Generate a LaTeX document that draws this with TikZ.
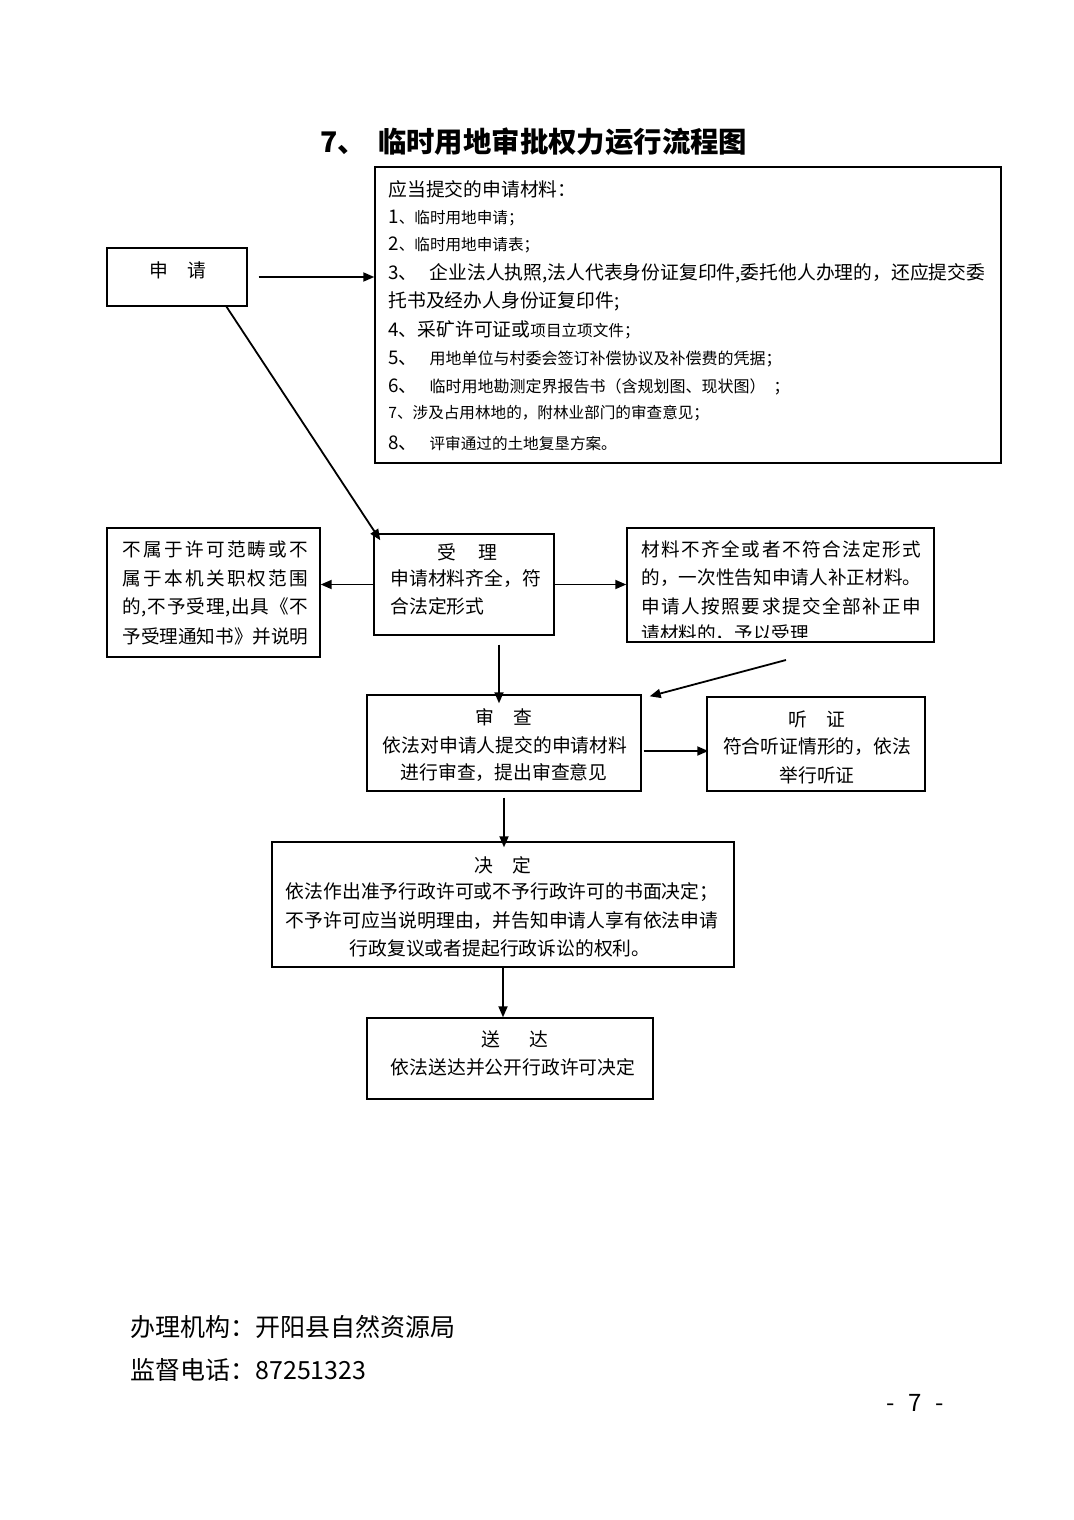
\documentclass[tikz,border=0pt]{standalone}
\usepackage{fontspec}
\setmainfont{Noto Sans CJK SC}
\usetikzlibrary{arrows.meta,fit,calc}
\def\spr#1{\sprfirst#1\relax}
\def\sprfirst#1{#1\sprrest}
\def\sprrest#1{\ifx#1\relax\else\hskip0pt plus1fil #1\expandafter\sprrest\fi}
\newcommand\fN{\fontsize{9.4pt}{11pt}\selectfont}
\newcommand\fS{\fontsize{7.8pt}{9pt}\selectfont}
\newcommand\fM{\fontsize{8pt}{9pt}\selectfont}
\newcommand\fB{\fontsize{9.3pt}{11pt}\selectfont}
\begin{document}
\begin{tikzpicture}[x=0.5pt,y=-0.5pt,
  box/.style={draw,line width=0.7pt,inner sep=0pt},
  tl/.style={inner sep=0pt,anchor=west,font=\fN},
  tc/.style={inner sep=0pt,anchor=center,font=\fN},
  arr/.style={-{Triangle[length=5.5pt,width=4.5pt]},line width=0.9pt}]
\fill[white] (0,0) rectangle (1074,1520);
\useasboundingbox (0,0) rectangle (1074,1520);

% title
\node[inner sep=0pt,anchor=west,font=\fontsize{14.2pt}{16pt}\selectfont\bfseries] (title) at (320,142) {7、\hspace{6pt}临时用地审批权力运行流程图};

% boxes
\node[box,fit={(107,248) (247,306)}] (sq) {};
\node[box,fit={(375,167) (1001,463)}] (mat) {};
\node[box,fit={(374,534) (554,635)}] (sl) {};
\node[box,fit={(107,528) (320,657)}] (lb) {};
\node[box,fit={(627,528) (934,642)}] (rb) {};
\node[box,fit={(367,695) (641,791)}] (sc) {};
\node[box,fit={(707,697) (925,791)}] (tz) {};
\node[box,fit={(272,842) (734,967)}] (jd) {};
\node[box,fit={(367,1018) (653,1099)}] (sd) {};

% 申请
\node[tc] (sqt) at (178,270) {申\hspace{10pt}请};

% materials
\node[tl] (m0) at (388,189) {应当提交的申请材料：};
\node[tl] (m1) at (388,218) {1\fS 、临时用地申请；};
\node[tl] (m2) at (388,245) {2\fS 、临时用地申请表；};
\node[tl] (m3) at (388,273) {3、\hspace{6pt}企业法人执照,法人代表身份证复印件,委托他人办理的，还应提交委};
\node[tl] (m4) at (388,301) {托书及经办人身份证复印件;};
\node[tl] (m5) at (388,330) {4、采矿许可证或{\fS 项目立项文件；}};
\node[tl] (m6) at (388,359) {5、\hspace{6pt}{\fM 用地单位与村委会签订补偿协议及补偿费的凭据；}};
\node[tl] (m7) at (388,387) {6、\hspace{6pt}{\fM 临时用地勘测定界报告书（含规划图、现状图）\hspace{4pt}；}};
\node[tl,font=\fS] (m8) at (388,413) {7、涉及占用林地的，附林业部门的审查意见；};
\node[tl] (m9) at (388,443) {8、\hspace{6pt}{\fS 评审通过的土地复垦方案。}};

% 受理
\node[tc] (slt) at (467,552) {受\hspace{11pt}理};
\node[tl] (sl1) at (390,578) {申请材料齐全，符};
\node[tl] (sl2) at (390,606) {合法定形式};

% left box
\node[tl,font=\fB] (lb1) at (122,549) {\hbox to 93pt{\spr{不属于许可范畴或不}}};
\node[tl,font=\fB] (lb2) at (122,578) {\hbox to 93pt{\spr{属于本机关职权范围}}};
\node[tl,font=\fB] (lb3) at (122,607) {\hbox to 93pt{\spr{的,不予受理,出具《不}}};
\node[tl,font=\fB] (lb4) at (122,636) {\hbox to 93pt{\spr{予受理通知书》并说明}}};

% right box
\node[tl,font=\fB] (rb1) at (641,549) {\hbox to 140pt{\spr{材料不齐全或者不符合法定形式}}};
\node[tl,font=\fB] (rb2) at (641,578) {\hbox to 140pt{\spr{的，一次性告知申请人补正材料。}}};
\node[tl,font=\fB] (rb3) at (641,606) {\hbox to 140pt{\spr{申请人按照要求提交全部补正申}}};
\begin{scope}
\clip (627,528) rectangle (934,637);
\node[tl,font=\fB] (rb4) at (641,634) {请材料的，予以受理};
\end{scope}

% 审查
\node[tc] (sct) at (504,717) {审\hspace{10pt}查};
\node[tc] (sc1) at (505,745) {依法对申请人提交的申请材料};
\node[tc] (sc2) at (504,773) {进行审查，提出审查意见};

% 听证
\node[tc] (tzt) at (817,719) {听\hspace{10pt}证};
\node[tc] (tz1) at (817,747) {符合听证情形的，依法};
\node[tc] (tz2) at (817,775) {举行听证};

% 决定
\node[tc] (jdt) at (503,865) {决\hspace{10pt}定};
\node[tc] (jd1) at (502,892) {依法作出准予行政许可或不予行政许可的书面决定；};
\node[tc] (jd2) at (502,921) {不予许可应当说明理由，并告知申请人享有依法申请};
\node[tc] (jd3) at (500,948) {行政复议或者提起行政诉讼的权利。};

% 送达
\node[tc] (sdt) at (515,1039) {送\hspace{15pt}达};
\node[tc] (sd1) at (513,1067) {依法送达并公开行政许可决定};

% footer
\node[inner sep=0pt,anchor=west,font=\fontsize{12.5pt}{14pt}\selectfont] (f1) at (130,1327) {办理机构：开阳县自然资源局};
\node[inner sep=0pt,anchor=west,font=\fontsize{12.5pt}{14pt}\selectfont] (f2) at (130,1370) {监督电话：87251323};
\node[inner sep=0pt,anchor=center,font=\fontsize{12pt}{14pt}\selectfont] (pg) at (915,1403) {-\hspace{7pt}7\hspace{7pt}-};

% connectors
\coordinate (c1) at (786,660);
\draw[arr,shorten <=5.5pt] (sq.east) -- (sq.east -| mat.west);
\draw[arr] ($(sq.south west)!0.85!(sq.south east)$) -- ([shift={(7,7)}]sl.north west);
\draw[arr] (sl.west) -- (sl.west -| lb.east);
\draw[arr] (sl.east) -- (sl.east -| rb.west);
\draw[arr] ([shift={(35,9)}]sl.south) -- ([shift={(35,9)}]sl.south |- sc.north);
\draw[arr] (c1) -- ([shift={(8,2)}]sc.north east);
\draw[arr] ([shift={(2,8)}]sc.east) -- ([shift={(2,8)}]sc.east -| tz.west);
\draw[arr] ([shift={(0,6)}]sc.south) -- ([shift={(0,6)}]sc.south |- jd.north);
\draw[arr] (jd.south) -- (jd.south |- sd.north);
\end{tikzpicture}
\end{document}
